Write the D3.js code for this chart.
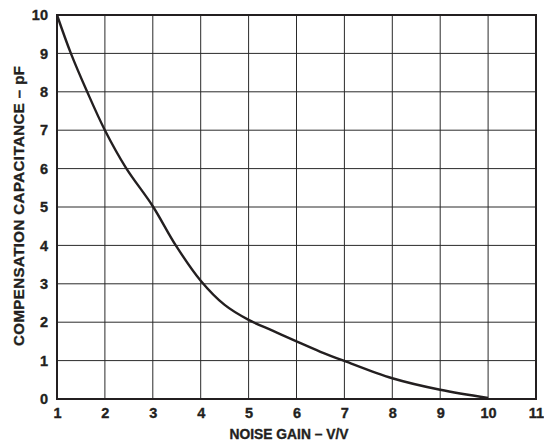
<!DOCTYPE html>
<html>
<head>
<meta charset="utf-8">
<script src="https://cdn.jsdelivr.net/npm/d3@7"></script>
<style>
  html, body { margin: 0; padding: 0; background: #fff; }
  svg { display: block; }
  text { font-family: "Liberation Sans", Arial, Helvetica, sans-serif; font-weight: bold; fill: #231f20; stroke: #231f20; stroke-width: 0.35px; }
</style>
</head>
<body>
<svg id="chart" width="544" height="441"></svg>
<script>
const noiseGain = [1, 1.29, 1.63, 2, 2.44, 3, 3.48, 4, 4.5, 5, 5.5, 6, 6.5, 7, 8, 9, 10];
const capacitance = [10, 9, 8, 7, 6.02, 5.02, 4, 3.08, 2.45, 2.06, 1.78, 1.5, 1.23, 0.99, 0.54, 0.24, 0.03];
const xTicks = [1, 2, 3, 4, 5, 6, 7, 8, 9, 10, 11];
const yTicks = [0, 1, 2, 3, 4, 5, 6, 7, 8, 9, 10];
const xTitle = "NOISE GAIN – V/V";
const yTitle = "COMPENSATION CAPACITANCE – pF";

const svg = d3.select("#chart");
const margin = { left: 57, right: 8, top: 15, bottom: 42 };
const W = 544, H = 441;
const x = d3.scaleLinear().domain([1, 11]).range([margin.left, W - margin.right]);
const y = d3.scaleLinear().domain([0, 10]).range([H - margin.bottom, margin.top]);

const grid = svg.append("g");
grid.selectAll("line.v").data(xTicks).join("line")
  .attr("x1", d => x(d)).attr("x2", d => x(d))
  .attr("y1", y(0)).attr("y2", y(10))
  .attr("stroke", "#2a2a2a").attr("stroke-width", 1);
grid.selectAll("line.h").data(yTicks).join("line")
  .attr("y1", d => y(d)).attr("y2", d => y(d))
  .attr("x1", x(1)).attr("x2", x(11))
  .attr("stroke", "#2a2a2a").attr("stroke-width", 1);

svg.append("rect")
  .attr("x", x(1)).attr("y", y(10))
  .attr("width", x(11) - x(1)).attr("height", y(0) - y(10))
  .attr("fill", "none").attr("stroke", "#231f20").attr("stroke-width", 2);

const xAxis = d3.axisBottom(x).tickValues(xTicks).tickSize(0).tickPadding(9).tickFormat(d3.format("d"));
const gx = svg.append("g").attr("transform", `translate(0,${y(0)})`).call(xAxis);
gx.select(".domain").remove();
gx.selectAll("text").style("font-size", "14.5px").attr("dy", "0.71em");

const yAxis = d3.axisLeft(y).tickValues(yTicks).tickSize(0).tickPadding(9).tickFormat(d3.format("d"));
const gy = svg.append("g").attr("transform", `translate(${x(1)},0)`).call(yAxis);
gy.select(".domain").remove();
gy.selectAll("text").style("font-size", "14.5px");

svg.append("path")
  .datum(noiseGain.map((v, i) => [v, capacitance[i]]))
  .attr("fill", "none").attr("stroke", "#231f20").attr("stroke-width", 2.4)
  .attr("d", d3.line().x(d => x(d[0])).y(d => y(d[1])).curve(d3.curveCatmullRom.alpha(0.5)));

svg.append("text")
  .attr("x", 289).attr("y", 439)
  .attr("text-anchor", "middle").style("font-size", "14px")
  .attr("textLength", 119).attr("lengthAdjust", "spacingAndGlyphs")
  .text(xTitle);

svg.append("text")
  .attr("transform", `translate(24,206) rotate(-90)`)
  .attr("text-anchor", "middle").style("font-size", "15px")
  .attr("textLength", 280).attr("lengthAdjust", "spacing")
  .text(yTitle);
</script>
</body>
</html>
